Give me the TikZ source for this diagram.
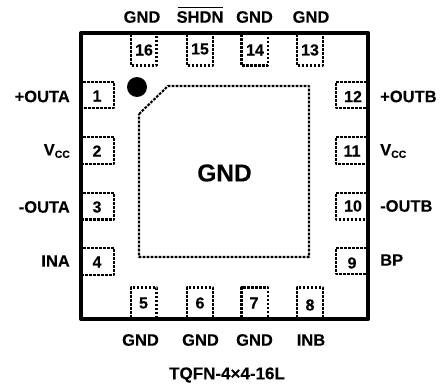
\documentclass[tikz,border=0pt]{standalone}
\usepackage{fontspec}
\setmainfont[BoldFeatures={FakeBold=0.12}]{Liberation Sans}
\newcommand{\vcclabel}{V\raisebox{-2.5pt}{\fontsize{10.4}{12}\bfseries\selectfont CC}}
\begin{document}
\begin{tikzpicture}[x=1pt,y=-1pt,
  padline/.style={draw=black,line width=2.1pt,line join=round,dash pattern=on 2.7pt off 1.3pt},
  pinnum/.style={font=\fontsize{16}{18}\bfseries\selectfont,inner sep=0pt,text=black},
  lab/.style={font=\fontsize{16.5}{18}\bfseries\selectfont,inner sep=0pt,text=black}]
\useasboundingbox (0,0) rectangle (441,385);
% pads
\foreach \n/\a/\b/\tx/\ty in {16/131/156.5/144/50, 15/187/213/200/49, 14/241.5/268/255/50, 13/297/323/310/50}{
  \draw[padline] (\a,34) -- (\a,65.5) -- (\b,65.5) -- (\b,34);
  \node[pinnum] (p\n) at (\tx,\ty) {\n};
}
\foreach \n/\a/\b/\tx/\ty in {5/131/156.5/143.5/303, 6/187/213/200/303, 7/241.5/268/254/303, 8/297/323/310/305}{
  \draw[padline] (\a,318) -- (\a,287.5) -- (\b,287.5) -- (\b,318);
  \node[pinnum] (p\n) at (\tx,\ty) {\n};
}
\foreach \n/\a/\b/\tx/\ty in {1/82/108/97/96, 2/137/164/97/151, 3/193/219.5/97/207, 4/248/275/97/262}{
  \draw[padline] (83,\a) -- (114,\a) -- (114,\b) -- (83,\b);
  \node[pinnum] (p\n) at (\tx,\ty) {\n};
}
\foreach \n/\a/\b/\tx/\ty in {12/82/108/353/96.5, 11/137/164/352/151, 10/193/219.5/353/206, 9/248/274/352/263}{
  \draw[padline] (367,\a) -- (336,\a) -- (336,\b) -- (367,\b);
  \node[pinnum] (p\n) at (\tx,\ty) {\n};
}
% centre pad
\draw[padline] (139,114) -- (168,86) -- (309,86) -- (309,257) -- (139,257) -- cycle;
\node[font=\fontsize{24.5}{26}\bfseries\selectfont,inner sep=0pt] (gnd) at (224.5,173) {GND};
% package
\draw[line width=4pt,line join=round] (81,33) rectangle (368.3,319);
\fill[black] (137,87) circle (10);
% labels
\node[lab] (t16) at (142,17) {GND};
\node[lab] (t15) at (200,17) {SHDN};
\draw[line width=0.9pt] ([xshift=2pt,yshift=3.5pt]t15.north west) -- ([xshift=-1pt,yshift=3.5pt]t15.north east);
\node[lab] (t14) at (254.5,17) {GND};
\node[lab] (t13) at (311,17) {GND};
\node[lab] (b5) at (140.5,340) {GND};
\node[lab] (b6) at (200.5,340) {GND};
\node[lab] (b7) at (254.5,340) {GND};
\node[lab] (b8) at (311,340) {INB};
\node[lab,anchor=east] (l1) at (70,96.5) {+OUTA};
\node[lab,anchor=east] (l2) at (70,151) {\vcclabel};
\node[lab,anchor=east] (l3) at (70,207) {-OUTA};
\node[lab,anchor=east] (l4) at (70,261) {INA};
\node[lab,anchor=west] (r12) at (380,96.5) {+OUTB};
\node[lab,anchor=west] (r11) at (380,151) {\vcclabel};
\node[lab,anchor=west] (r10) at (380,206) {-OUTB};
\node[lab,anchor=west] (r9) at (380,260) {BP};
\node[font=\fontsize{17}{18}\bfseries\selectfont,inner sep=0pt] (pkg) at (227,375) {TQFN-4×4-16L};
\end{tikzpicture}
\end{document}
